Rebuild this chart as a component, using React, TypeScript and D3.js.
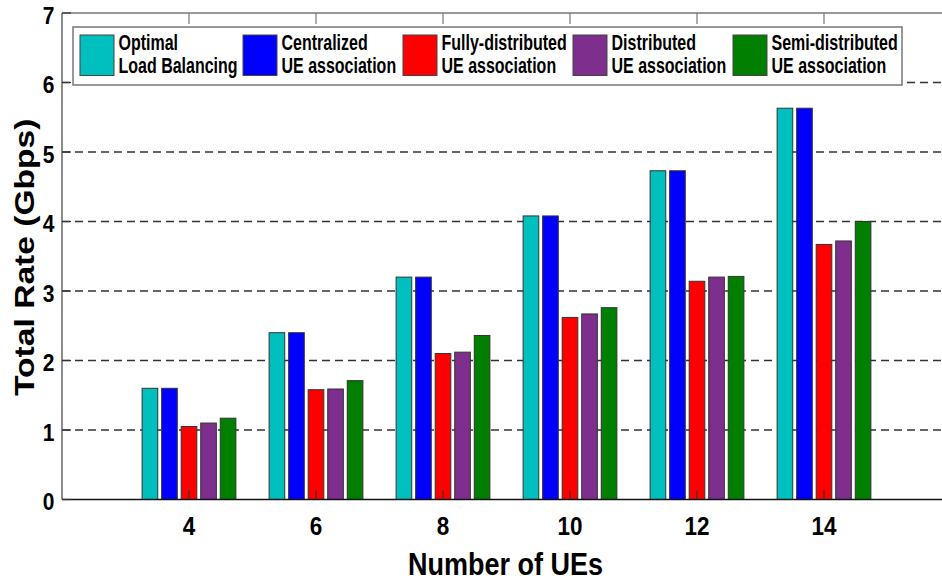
import React from "react";
import * as d3 from "d3";

const categories = [4, 6, 8, 10, 12, 14];
const optimalLB = [1.6, 2.4, 3.2, 4.08, 4.73, 5.63];
const centralizedUA = [1.6, 2.4, 3.2, 4.08, 4.73, 5.63];
const fullyDistributedUA = [1.05, 1.58, 2.1, 2.62, 3.14, 3.67];
const distributedUA = [1.1, 1.59, 2.12, 2.67, 3.2, 3.72];
const semiDistributedUA = [1.17, 1.71, 2.36, 2.76, 3.21, 4.0];
const seriesLine1 = ["Optimal", "Centralized", "Fully-distributed", "Distributed", "Semi-distributed"];
const seriesLine2 = ["Load Balancing", "UE association", "UE association", "UE association", "UE association"];
const seriesColors = ["#00BFBF", "#0000FF", "#FF0000", "#7E2F8E", "#007F00"];
const yTicks = [0, 1, 2, 3, 4, 5, 6, 7];
const xLabel = "Number of UEs";
const yLabel = "Total Rate (Gbps)";

const W = 942;
const H = 580;
const FONT = "'Liberation Sans', Arial, Helvetica, sans-serif";

export default function App() {
  const series = [optimalLB, centralizedUA, fullyDistributedUA, distributedUA, semiDistributedUA];
  const left = 62, right = 951, top = 13, bottom = 499.5;
  const x = d3.scaleLinear().domain([2, 16]).range([left, right]);
  const y = d3.scaleLinear().domain([0, 7]).range([bottom, top]);
  const spacing = x(6) - x(4);
  const n = series.length;
  const groupW = spacing * n / (n + 1.5);
  const slot = groupW / n;
  const barW = slot * 0.8;

  const legendX = [80, 243, 403, 573, 733];

  return (
    <svg width={W} height={H} style={{ position: "absolute", left: 0, top: 0, background: "#fff" }} fontFamily={FONT}>
      <rect x={0} y={0} width={W} height={H} fill="#fff" />
      {/* grid */}
      {yTicks.filter((t) => t > 0 && t < 7).map((t) => (
        <line key={"g" + t} x1={left} x2={right} y1={y(t)} y2={y(t)} stroke="#333" strokeWidth={1.4} strokeDasharray="8,5" />
      ))}
      {/* bars */}
      {categories.map((c, ci) =>
        series.map((s, si) => {
          const bx = x(c) - groupW / 2 + si * slot + (slot - barW) / 2;
          return (
            <rect key={`b${ci}-${si}`} x={bx} y={y(s[ci])} width={barW} height={y(0) - y(s[ci])}
              fill={seriesColors[si]} stroke="#333" strokeWidth={1} />
          );
        })
      )}
      {/* axes box */}
      <line x1={left} x2={left} y1={top} y2={bottom} stroke="#666" strokeWidth={1.5} />
      <line x1={left} x2={right} y1={top} y2={top} stroke="#777" strokeWidth={1.5} />
      <line x1={left} x2={right} y1={bottom} y2={bottom} stroke="#111" strokeWidth={1.6} />
      {/* y ticks */}
      {yTicks.map((t) => (
        <g key={"yt" + t}>
          <line x1={left} x2={left + 9} y1={y(t)} y2={y(t)} stroke="#333" strokeWidth={1.2} />
          <g transform={`translate(54.5, ${y(t) + 10.5}) scale(1, 1.1)`}>
            <text textAnchor="end" fontSize={21} fontWeight="bold" fill="#000">{t}</text>
          </g>
        </g>
      ))}
      {/* x ticks */}
      {categories.map((c) => (
        <g key={"xt" + c}>
          <line x1={x(c)} x2={x(c)} y1={top} y2={top + 11} stroke="#777" strokeWidth={1.2} />
          <line x1={x(c)} x2={x(c)} y1={bottom} y2={bottom - 9} stroke="#333" strokeWidth={1.2} />
          <g transform={`translate(${x(c)}, 535) scale(1, 1.12)`}>
            <text textAnchor="middle" fontSize={22.5} fontWeight="bold" fill="#000">{c}</text>
          </g>
        </g>
      ))}
      {/* axis labels */}
      <g transform={`translate(${(left + right) / 2 - 1}, 575) scale(1, 1.19)`}>
        <text textAnchor="middle" fontSize={27} fontWeight="bold" fill="#000">{xLabel}</text>
      </g>
      <g transform={`translate(33.5, ${(top + bottom) / 2 + 1}) rotate(-90) scale(1.2, 1)`}>
        <text textAnchor="middle" fontSize={28} fontWeight="bold" fill="#000">{yLabel}</text>
      </g>
      {/* legend */}
      <rect x={73} y={27} width={829} height={58} fill="#fff" stroke="#777" strokeWidth={1.5} />
      {seriesColors.map((col, i) => (
        <g key={"lg" + i}>
          <rect x={legendX[i]} y={35} width={34} height={40.5} fill={col} stroke="#444" strokeWidth={1} />
          <g transform={`translate(${legendX[i] + 38.5}, 50) scale(1, 1.35)`}>
            <text fontSize={16} fontWeight="bold" fill="#000">{seriesLine1[i]}</text>
          </g>
          <g transform={`translate(${legendX[i] + 38.5}, 73.3) scale(1, 1.35)`}>
            <text fontSize={16} fontWeight="bold" fill="#000">{seriesLine2[i]}</text>
          </g>
        </g>
      ))}
    </svg>
  );
}
